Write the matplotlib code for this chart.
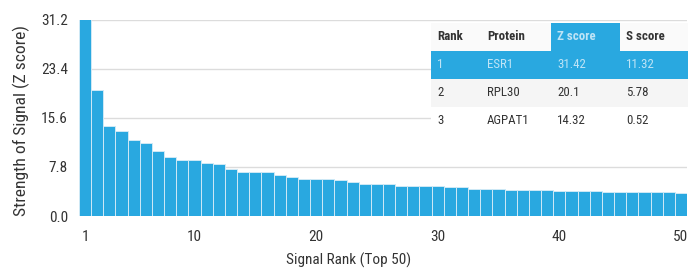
import numpy as np
import matplotlib.pyplot as plt
from matplotlib.patches import Rectangle

plt.rcParams['font.family'] = ['Roboto Condensed', 'Archivo Narrow', 'Arimo', 'DejaVu Sans']

# Z scores for the top 50 signals
z_scores = [31.42, 20.1, 14.32, 13.6, 12.1, 11.6, 10.4, 9.4, 8.9, 8.9,
            8.4, 8.3, 7.5, 7.0, 7.0, 7.0, 6.6, 6.2, 5.95, 5.95,
            5.95, 5.7, 5.4, 5.15, 5.15, 5.15, 4.85, 4.85, 4.7, 4.7,
            4.57, 4.57, 4.3, 4.25, 4.25, 4.2, 4.09, 4.09, 4.09, 3.98,
            3.98, 3.98, 3.93, 3.88, 3.88, 3.88, 3.88, 3.82, 3.82, 3.72]
ranks = np.arange(1, len(z_scores) + 1)

y_ticks = [0.0, 7.8, 15.6, 23.4, 31.2]
x_ticks = [1, 10, 20, 30, 40, 50]

# table of top proteins
table_cols = ['Rank', 'Protein', 'Z score', 'S score']
table_rows = [['1', 'ESR1', '31.42', '11.32'],
              ['2', 'RPL30', '20.1', '5.78'],
              ['3', 'AGPAT1', '14.32', '0.52']]

blue = '#29a8e0'
pale = '#bfe4f6'
text_col = '#333333'

W, H = 688, 271
fig = plt.figure(figsize=(W / 100, H / 100), dpi=100)
ax = fig.add_axes([79 / W, 1 - 216 / H, 608 / W, 196 / H])

ax.bar(ranks, z_scores, width=1.0, color=blue, edgecolor='#cfe9f6', linewidth=0.7, zorder=2)
ax.set_xlim(0.5, 50.5)
ax.set_ylim(0, 31.2)
ax.set_yticks(y_ticks)
ax.set_yticklabels([f'{v:.1f}' for v in y_ticks])
ax.set_xticks(x_ticks)
ax.grid(axis='y', color='#dcdcdc', linewidth=1, zorder=0)
ax.set_axisbelow(True)
for s in ax.spines.values():
    s.set_visible(False)
ax.tick_params(length=0, labelsize=11, colors=text_col)
ax.tick_params(axis='x', pad=10)
ax.tick_params(axis='y', pad=8)
ax.set_xlabel('Signal Rank (Top 50)', fontsize=11, color=text_col)
ax.xaxis.set_label_coords((349 - 79) / 608, -(253 - 216) / 196)
ax.set_ylabel('Strength of Signal (Z score)', fontsize=12.6, color=text_col)
ax.yaxis.set_label_coords(-(79 - 30) / 608, (216 - 121) / 196)

# table in the top right corner, drawn in figure pixels
col_x = [431, 481, 551, 620, 688]
row_y = [23, 51, 79, 107, 135]


def fx(px):
    return px / W


def fy(py):
    return 1 - py / H


fig.patches.append(Rectangle((fx(col_x[0]), fy(row_y[-1])), fx(col_x[-1] - col_x[0]),
                             (row_y[-1] - row_y[0]) / H, transform=fig.transFigure,
                             facecolor='white', edgecolor='none', zorder=3))
all_rows = [table_cols] + table_rows
for r, row in enumerate(all_rows):
    for c, val in enumerate(row):
        face = 'white'
        color = text_col
        if r == 0:
            face = '#fafafa'
            if c == 2:
                face = blue
                color = pale
        elif r == 1:
            face = blue
            color = pale
        elif r == 2:
            face = '#f5f5f5'
        fig.patches.append(Rectangle((fx(col_x[c]), fy(row_y[r + 1])),
                                     fx(col_x[c + 1] - col_x[c]), (row_y[r + 1] - row_y[r]) / H,
                                     transform=fig.transFigure, facecolor=face,
                                     edgecolor='none', zorder=4))
        fig.text(fx(col_x[c] + 6), fy((row_y[r] + row_y[r + 1]) / 2), val,
                 ha='left', va='center', fontsize=9.3, color=color,
                 fontweight='bold' if r == 0 else 'normal', zorder=5)

fig.savefig('out.png', dpi=100)
